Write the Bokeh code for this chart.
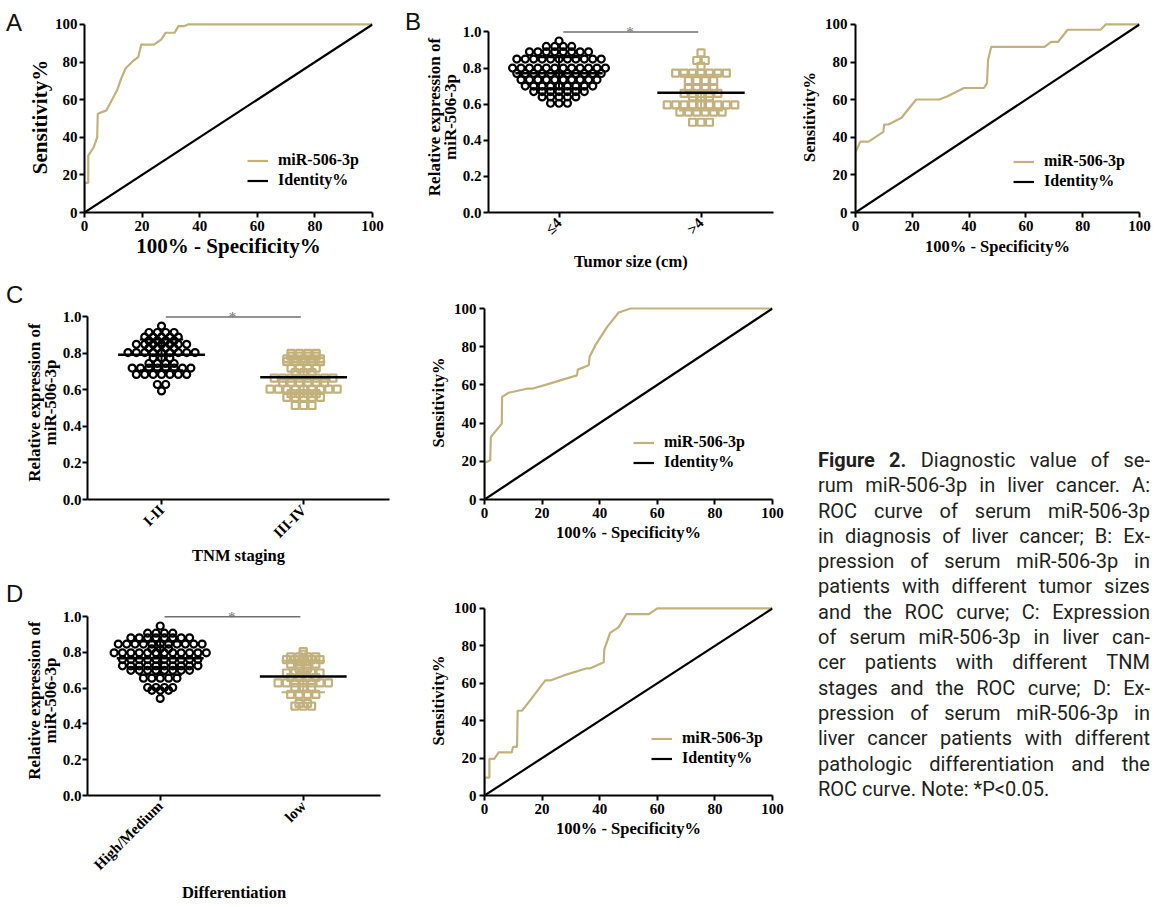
import math
import html
import numpy as np
from bokeh.plotting import figure
from bokeh.models import Range1d, FixedTicker, NumeralTickFormatter, Legend, LegendItem, Label, Div
from bokeh.layouts import row, column
from bokeh.embed import file_html
from bokeh.resources import INLINE

# ------------------------------------------------------------------ data
# ROC curves (100% - specificity %, sensitivity %)
roc_a_fpr = [0, 0, 1.3, 1.3, 3.2, 4.4, 4.6, 7.6, 9.6, 11.4, 12.7, 14.3, 16.6, 18.7, 19.7, 24.1, 26.7, 28.2, 31.3, 32.6, 34.5, 35.9, 100]
roc_a_tpr = [0, 15.8, 15.8, 30.3, 34.7, 39.9, 52.5, 54.3, 60.1, 65.3, 71.1, 76.7, 80.2, 82.8, 89.3, 89.3, 92.1, 95.6, 95.6, 99.1, 99.1, 100, 100]

roc_b_fpr = [0, 0, 1.7, 4.6, 9.8, 10.1, 11.6, 16.2, 18.5, 21.4, 29.5, 32.4, 38.2, 45.2, 46.3, 46.7, 47.8, 66.6, 68.9, 71.3, 74.7, 86.3, 88.1, 100]
roc_b_tpr = [0, 32, 37.7, 37.7, 42.9, 46.8, 46.8, 50.4, 54.8, 60.1, 60.1, 61.8, 66.2, 66.2, 68.8, 81.4, 88.1, 88.1, 90.7, 90.7, 97.2, 97.2, 100, 100]

roc_c_fpr = [0, 0, 2.0, 2.2, 6.0, 6.1, 8.4, 14.7, 16.5, 21.7, 32.1, 32.4, 36.2, 36.5, 38.5, 42.6, 46.6, 50.7, 100]
roc_c_tpr = [0, 19.1, 20.5, 32.7, 39.7, 53.7, 55.9, 58.0, 58.0, 60.3, 65.0, 68.0, 70.3, 74.7, 80.8, 90.4, 97.9, 100, 100]

roc_d_fpr = [0, 0, 1.7, 1.7, 3.4, 4.9, 9.5, 9.9, 11.3, 11.5, 13.0, 15.9, 21.1, 22.9, 27.5, 35.6, 36.8, 41.4, 41.6, 43.6, 46.6, 49.3, 57.1, 60.0, 100]
roc_d_tpr = [0, 9.6, 9.6, 19.6, 19.6, 23.1, 23.1, 26.0, 26.0, 45.3, 45.3, 51.0, 61.5, 61.5, 64.2, 68.0, 68.0, 71.2, 78.1, 86.9, 90.0, 97.0, 97.0, 100, 100]

identity_x = [0, 100]
identity_y = [0, 100]
roc_ticks = [0, 20, 40, 60, 80, 100]

# Dot plots: relative expression levels and number of patients at each level
b_small_levels = [0.95, 0.92, 0.89, 0.85, 0.80, 0.77, 0.735, 0.70, 0.67, 0.64, 0.605]
b_small_counts = [1, 4, 8, 11, 12, 11, 10, 9, 7, 5, 3]
b_large_levels = [0.884, 0.842, 0.81, 0.772, 0.73, 0.688, 0.66, 0.64, 0.596, 0.556, 0.50]
b_large_counts = [1, 2, 1, 7, 4, 4, 5, 3, 9, 6, 3]

c_early_levels = [0.95, 0.915, 0.89, 0.87, 0.85, 0.83, 0.805, 0.775, 0.745, 0.72, 0.685, 0.63, 0.595]
c_early_counts = [1, 4, 5, 4, 7, 4, 9, 3, 4, 8, 7, 2, 1]
c_late_levels = [0.80, 0.785, 0.77, 0.755, 0.72, 0.695, 0.665, 0.64, 0.605, 0.58, 0.56, 0.515]
c_late_counts = [4, 4, 5, 5, 4, 3, 8, 6, 9, 4, 5, 3]

d_high_levels = [0.948, 0.908, 0.882, 0.847, 0.82, 0.798, 0.76, 0.725, 0.70, 0.656, 0.604, 0.588, 0.543]
d_high_counts = [1, 4, 8, 11, 3, 12, 10, 10, 8, 5, 4, 3, 1]
d_low_levels = [0.805, 0.79, 0.775, 0.76, 0.735, 0.71, 0.685, 0.66, 0.63, 0.605, 0.565, 0.515, 0.50]
d_low_counts = [1, 1, 4, 5, 4, 2, 5, 4, 7, 3, 4, 2, 3]

b_categories = ["\u22644", ">4"]
c_categories = ["I-II", "III-IV"]
d_categories = ["High/Medium", "low"]
dot_ticks = [0.0, 0.2, 0.4, 0.6, 0.8, 1.0]

caption_lines = [
    "Figure 2. Diagnostic value of se-",
    "rum miR-506-3p in liver cancer. A:",
    "ROC curve of serum miR-506-3p",
    "in diagnosis of liver cancer; B: Ex-",
    "pression of serum miR-506-3p in",
    "patients with different tumor sizes",
    "and the ROC curve; C: Expression",
    "of serum miR-506-3p in liver can-",
    "cer patients with different TNM",
    "stages and the ROC curve; D: Ex-",
    "pression of serum miR-506-3p in",
    "liver cancer patients with different",
    "pathologic differentiation and the",
    "ROC curve. Note: *P<0.05.",
]

# ------------------------------------------------------------------ style
GOLD = "#c3b17d"
SERIF = "Liberation Serif"


def row_offsets(counts, spacing):
    """Horizontal pixel offsets: each value row centred on its category."""
    out = []
    for n in counts:
        out.extend((np.arange(n) - (n - 1) / 2.0) * spacing)
    return np.array(out)


def style_axes(p, xstand, ystand, title_px="16.5px", ylab_standoff=3):
    p.outline_line_color = None
    p.xgrid.visible = False
    p.ygrid.visible = False
    p.background_fill_color = "white"
    p.border_fill_color = "white"
    for ax in list(p.xaxis) + list(p.yaxis):
        ax.axis_line_width = 2
        ax.axis_line_color = "black"
        ax.major_tick_line_width = 2
        ax.major_tick_line_color = "black"
        ax.major_tick_out = 5
        ax.major_tick_in = 0
        ax.minor_tick_line_color = None
        ax.major_label_text_font = SERIF
        ax.major_label_text_font_style = "bold"
        ax.major_label_text_font_size = "15px"
        ax.major_label_text_color = "black"
        ax.major_label_standoff = 3
        ax.axis_label_text_font = SERIF
        ax.axis_label_text_font_style = "bold"
        ax.axis_label_text_font_size = title_px
        ax.axis_label_text_color = "black"
    p.yaxis.major_label_standoff = ylab_standoff
    p.xaxis.axis_label_standoff = xstand
    p.yaxis.axis_label_standoff = ystand


def roc_fig(cx, cy, W, H, bl, br, bt, bb, h100, fpr, tpr, leg_x, leg_bottom,
            xstand=2, ystand=3, title_px="16.5px", ylab_standoff=3):
    fh = H - bt - bb
    y_end = fh / h100 * 100.0
    p = figure(width=W, height=H, x_range=Range1d(0, 100), y_range=Range1d(0, y_end),
               min_border_left=bl, min_border_right=br, min_border_top=bt, min_border_bottom=bb,
               output_backend="svg", toolbar_location=None)
    r1 = p.line(fpr, tpr, line_color=GOLD, line_width=2.2)
    r2 = p.line(identity_x, identity_y, line_color="black", line_width=2.2)
    style_axes(p, xstand, ystand, title_px=title_px, ylab_standoff=ylab_standoff)
    p.xaxis.ticker = FixedTicker(ticks=roc_ticks)
    p.yaxis.ticker = FixedTicker(ticks=roc_ticks)
    p.yaxis.bounds = (0, 100)
    p.xaxis.axis_label = "100% - Specificity%"
    p.yaxis.axis_label = "Sensitivity%"
    fx = cx + bl
    fb = cy + H - bb
    leg = Legend(items=[LegendItem(label="miR-506-3p", renderers=[r1]),
                        LegendItem(label="Identity%", renderers=[r2])],
                 location=(leg_x - fx, fb - leg_bottom),
                 border_line_alpha=0, background_fill_alpha=0, padding=0, margin=0,
                 spacing=1, glyph_width=21, glyph_height=19, label_height=19,
                 label_standoff=10, label_text_font=SERIF, label_text_font_style="bold",
                 label_text_font_size="16px", label_text_color="black")
    p.add_layout(leg)
    return p


def dot_fig(cx, cy, W, H, bl, br, bt, bb, h1, ppx, cat1_px, groups, cats, ytitle, xtitle,
            xstand, ystand, ylab_standoff):
    fw = W - bl - br
    fh = H - bt - bb
    x0 = 1 - (cat1_px - (cx + bl)) / ppx
    x1 = x0 + fw / ppx
    y_end = fh / h1
    p = figure(width=W, height=H, x_range=Range1d(x0, x1), y_range=Range1d(0, y_end),
               min_border_left=bl, min_border_right=br, min_border_top=bt, min_border_bottom=bb,
               output_backend="svg", toolbar_location=None)
    for k, (levels, counts, marker, color, err_color) in enumerate(groups):
        vals = np.repeat(np.array(levels, dtype=float), counts)
        off = row_offsets(counts, 8.5)
        p.scatter(k + 1 + off / ppx, vals, marker=marker, size=7, line_color=color,
                  fill_color=None, line_width=2.2)
    for k, (levels, counts, marker, color, err_color) in enumerate(groups):
        vals = np.repeat(np.array(levels, dtype=float), counts)
        m = float(vals.mean())
        s = float(vals.std(ddof=1))
        xc = k + 1
        cap = 22.0 / ppx
        half = 44.0 / ppx
        p.segment(x0=[xc], y0=[m - s], x1=[xc], y1=[m + s], line_color=err_color, line_width=2)
        p.segment(x0=[xc - cap, xc - cap], y0=[m + s, m - s], x1=[xc + cap, xc + cap], y1=[m + s, m - s],
                  line_color=err_color, line_width=2)
        p.segment(x0=[xc - half], y0=[m], x1=[xc + half], y1=[m], line_color="black", line_width=2.5)
    # significance bar
    p.segment(x0=[1.03], y0=[1.0], x1=[1.98], y1=[1.0], line_color="#707070", line_width=1.6)
    p.add_layout(Label(x=1.5, y=1.0, text="*", text_align="center", text_baseline="alphabetic",
                       text_font=SERIF, text_font_size="15px", text_color="#707070"))
    style_axes(p, xstand, ystand, ylab_standoff=ylab_standoff)
    p.yaxis.ticker = FixedTicker(ticks=dot_ticks)
    p.yaxis.formatter = NumeralTickFormatter(format="0.0")
    p.yaxis.bounds = (0, 1.0)
    p.yaxis.axis_label = ytitle
    p.yaxis.axis_label_text_font_size = "17px"
    p.yaxis.axis_label_text_line_height = 0.82
    p.xaxis.ticker = FixedTicker(ticks=[1, 2])
    p.xaxis.major_label_overrides = {1: cats[0], 2: cats[1]}
    p.xaxis.major_label_orientation = math.pi / 4
    p.xaxis.axis_label = xtitle
    return p


def letter(text, W, H, pl, pt):
    h = (f'<div style="font-family:\'Liberation Sans\';font-size:24px;line-height:24px;'
         f'padding-left:{pl}px;padding-top:{pt}px;color:#111111;">{text}</div>')
    return Div(text=h, width=W, height=H, margin=0)


YT = "Relative expression of\nmiR-506-3p"

# ---------------- row 1  (page y 0 -> 277)
divA = letter("A", 22, 277, 6, 11)
figA = roc_fig(22, 0, 378, 277, 62, 28, 19, 64, 191, roc_a_fpr, roc_a_tpr, 247, 190.5,
               xstand=0, ystand=0, title_px="21px", ylab_standoff=2)
divB = letter("B", 22, 277, 5, 10)
figB = dot_fig(422, 0, 374, 277, 64, 23, 11, 65, 190, 143.0, 557,
               [(b_small_levels, b_small_counts, "circle", "black", "black"),
                (b_large_levels, b_large_counts, "square", GOLD, GOLD)],
               b_categories, YT, "Tumor size (cm)", xstand=6, ystand=0, ylab_standoff=2)
figBR = roc_fig(796, 0, 360, 277, 59, 17, 21, 63, 190, roc_b_fpr, roc_b_tpr, 1013, 192.5,
                xstand=3, ystand=3)

# ---------------- row 2  (page y 277 -> 577)
divC = letter("C", 22, 300, 6, 6)
figC = dot_fig(22, 277, 403, 300, 61, 36, 19, 78, 191, 144.0, 158,
               [(c_early_levels, c_early_counts, "circle", "black", "black"),
                (c_late_levels, c_late_counts, "square", GOLD, GOLD)],
               c_categories, YT, "TNM staging", xstand=-4, ystand=0, ylab_standoff=1)
figCR = roc_fig(425, 277, 365, 300, 59, 18, 28, 78, 191, roc_c_fpr, roc_c_tpr, 633, 471.5,
                xstand=2, ystand=3)

# ---------------- row 3  (page y 577 -> 905)
divD = letter("D", 22, 328, 6, 5)
figD = dot_fig(22, 577, 403, 328, 61, 45, 18, 106, 192, 145.0, 156.7,
               [(d_high_levels, d_high_counts, "circle", "black", "black"),
                (d_low_levels, d_low_counts, "square", GOLD, GOLD)],
               d_categories, YT, "Differentiation", xstand=2, ystand=0, ylab_standoff=1)
figDR = roc_fig(425, 577, 365, 328, 59, 18, 28, 106, 191, roc_d_fpr, roc_d_tpr, 651, 771.5,
                xstand=2, ystand=3)

# ---------------- caption
parts = []
for i, line in enumerate(caption_lines):
    words = line.split(" ")
    if i < len(caption_lines) - 1:
        spans = []
        for j, w in enumerate(words):
            wt = html.escape(w)
            if i == 0 and j < 2:
                spans.append(f'<span style="font-weight:bold">{wt}</span>')
            else:
                spans.append(f"<span>{wt}</span>")
        parts.append('<div style="display:flex;justify-content:space-between;">' + "".join(spans) + "</div>")
    else:
        parts.append(f'<div>{html.escape(line)}</div>')
cap_html = ('<div style="margin-left:28px;margin-top:171px;width:332px;font-family:Roboto;'
            'font-size:20px;line-height:25.3px;color:#231f20;">' + "".join(parts) + "</div>")
cap = Div(text=cap_html, width=366, height=628, margin=0)

layout = column(row(divA, figA, divB, figB, figBR),
                row(column(row(divC, figC, figCR), row(divD, figD, figDR)), cap))

open("out.html", "w").write(file_html(layout, INLINE))
